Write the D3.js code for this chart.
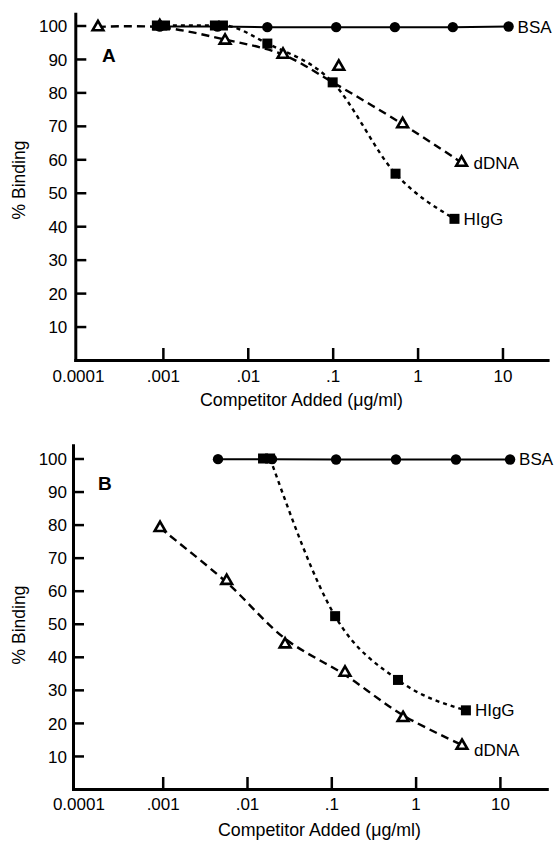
<!DOCTYPE html>
<html><head><meta charset="utf-8">
<script src="https://cdn.jsdelivr.net/npm/d3@7"></script>
<style>
body{margin:0;background:#fff}
svg text{font-family:"Liberation Sans",Arial,Helvetica,sans-serif;fill:#000}
</style>
</head><body><svg id="c" width="556" height="841"></svg>
<script>
// ---------- DATA ----------
const xTickValues = [0.0001, 0.001, 0.01, 0.1, 1, 10];
const xTickLabels = ["0.0001", ".001", ".01", ".1", "1", "10"];
const yTickValues = [10, 20, 30, 40, 50, 60, 70, 80, 90, 100];
const seriesNames = ["BSA", "HIgG", "dDNA"];
const xTitle = "Competitor Added (\u03bcg/ml)";
const yTitle = "% Binding";

// Panel A
const bsaA_conc  = [0.00092, 0.0044, 0.017, 0.11, 0.54, 2.6, 11.8];
const bsaA_val   = [99.7, 99.7, 99.5, 99.5, 99.5, 99.5, 99.7];
const higgA_conc = [0.00085, 0.00106, 0.0041, 0.0051, 0.017, 0.1, 0.55, 2.72];
const higgA_val  = [100, 100, 100, 100, 94.6, 83, 55.7, 42.2];
const higgA_curveConc = [0.00085, 0.0051, 0.017, 0.1, 0.55, 2.72];
const higgA_curveVal  = [100, 100, 94.6, 83, 55.7, 42.2];
const dnaA_conc  = [0.000172, 0.00092, 0.0054, 0.026, 0.118, 0.667, 3.3];
const dnaA_val   = [99.5, 99.8, 95.5, 91.3, 87.7, 70.5, 59];
const dnaA_curveConc = [0.000172, 0.00092, 0.0054, 0.026, 0.1, 0.667, 3.3];
const dnaA_curveVal  = [99.6, 99.5, 95.8, 91.3, 83, 70.5, 59];

// Panel B
const bsaB_conc  = [0.00453, 0.0198, 0.114, 0.585, 3.01, 13.2];
const bsaB_val   = [99.8, 99.8, 99.7, 99.7, 99.7, 99.7];
const higgB_conc = [0.0155, 0.0188, 0.111, 0.618, 3.95];
const higgB_val  = [100, 100, 52.3, 33, 23.8];
const higgB_curveConc = [0.0188, 0.111, 0.618, 3.95];
const higgB_curveVal  = [100, 52.3, 33, 23.8];
const dnaB_conc  = [0.00093, 0.00574, 0.0283, 0.1454, 0.71, 3.55];
const dnaB_val   = [79, 63, 43.8, 35.2, 21.5, 13.1];
const dnaB_curveConc = [0.00093, 0.00574, 0.0283, 0.1454, 0.71, 3.55];
const dnaB_curveVal  = [79, 62.5, 45.5, 34.5, 22.3, 13.3];

// ---------- DRAW ----------
const svg = d3.select("#c");
const zip = (a, b) => a.map((v, i) => [v, b[i]]);
const FS = "17px";

function panel(cfg) {
  const x = d3.scaleLog().domain(cfg.xDomain).range(cfg.xRange);
  const y = d3.scaleLinear().domain(cfg.yDomain).range(cfg.yRange);
  const g = svg.append("g");

  // axes
  const xa = g.append("g").attr("transform", `translate(0,${cfg.yRange[0]})`)
    .call(d3.axisBottom(x).tickValues(xTickValues)
      .tickFormat((d, i) => xTickLabels[i]).tickSizeInner(-12).tickSizeOuter(0));
  xa.select(".domain").attr("stroke-width", 3).attr("stroke-linecap", "square");
  xa.selectAll(".tick line").attr("stroke-width", 2.5)
    .attr("opacity", (d, i) => i === 0 ? 0 : 1);
  xa.selectAll(".tick text").attr("y", cfg.xLabelDy).attr("dy", 0)
    .style("font-size", FS);

  const ya = g.append("g").attr("transform", `translate(${cfg.xRange[0]},0)`)
    .call(d3.axisLeft(y).tickValues(yTickValues).tickSizeInner(-11)
      .tickSizeOuter(0).tickPadding(cfg.yPad));
  ya.select(".domain").attr("stroke-width", 3).attr("stroke-linecap", "square");
  ya.selectAll(".tick line").attr("stroke-width", 2.5);
  ya.selectAll(".tick text").style("font-size", FS).attr("dy", "0.36em");
  g.selectAll(".domain, .tick line").attr("stroke", "#000");

  // titles
  g.append("text").attr("x", cfg.xTitleX).attr("y", cfg.xTitleY)
    .style("font-size", "17.8px").text(xTitle);
  g.append("text").attr("transform", `translate(${cfg.yTitleX},${cfg.yTitleY}) rotate(-90)`)
    .attr("text-anchor", "middle").style("font-size", "17.5px").text(yTitle);
  g.append("text").attr("x", cfg.letterX).attr("y", cfg.letterY)
    .style("font-size", "19px").style("font-weight", "bold").text(cfg.letter);

  const line = d3.line().x(d => x(d[0])).y(d => y(d[1]));

  // curves
  g.append("path").datum(zip(cfg.bsa[0], cfg.bsa[1]))
    .attr("d", line.curve(d3.curveLinear)).attr("fill", "none")
    .attr("stroke", "#000").attr("stroke-width", 2);
  g.append("path").datum(zip(cfg.dnaCurve[0], cfg.dnaCurve[1]))
    .attr("d", line.curve(d3.curveCatmullRom.alpha(0.5))).attr("fill", "none")
    .attr("stroke", "#000").attr("stroke-width", 2.4).attr("stroke-dasharray", "8,5");
  g.append("path").datum(zip(cfg.higgCurve[0], cfg.higgCurve[1]))
    .attr("d", line.curve(d3.curveMonotoneX)).attr("fill", "none")
    .attr("stroke", "#000").attr("stroke-width", 2.4).attr("stroke-dasharray", "4,4");

  // markers
  g.append("g").selectAll("circle").data(zip(cfg.bsa[0], cfg.bsa[1])).join("circle")
    .attr("cx", d => x(d[0])).attr("cy", d => y(d[1])).attr("r", 5.2).attr("fill", "#000");
  g.append("g").selectAll("path").data(zip(cfg.dna[0], cfg.dna[1])).join("path")
    .attr("transform", d => `translate(${x(d[0])},${y(d[1])})`)
    .attr("d", d3.symbol(d3.symbolTriangle, 50)).attr("fill", "#fff")
    .attr("stroke", "#000").attr("stroke-width", 2.6);
  g.append("g").selectAll("rect").data(zip(cfg.higg[0], cfg.higg[1])).join("rect")
    .attr("x", d => x(d[0]) - 5).attr("y", d => y(d[1]) - 5)
    .attr("width", 10).attr("height", 10).attr("fill", "#000");

  // series labels at last points
  const lab = (arr, name, dx, dy) => {
    const n = arr[0].length - 1;
    g.append("text").attr("x", x(arr[0][n]) + dx).attr("y", y(arr[1][n]) + dy)
      .style("font-size", FS).text(name);
  };
  lab(cfg.bsa, seriesNames[0], 9, 6);
  lab(cfg.higg, seriesNames[1], 9, 6);
  lab(cfg.dna, seriesNames[2], 12, cfg.dnaLabDy);
}

panel({
  xDomain: [9.3e-5, 34], xRange: [75.3, 547.6],
  yDomain: [0, 103.5], yRange: [360, 360 - 103.5 * 3.345],
  xLabelDy: 22, yPad: 8,
  xTitleX: 200, xTitleY: 406, yTitleX: 25, yTitleY: 180,
  letter: "A", letterX: 102, letterY: 62,
  bsa: [bsaA_conc, bsaA_val],
  higg: [higgA_conc, higgA_val], higgCurve: [higgA_curveConc, higgA_curveVal],
  dna: [dnaA_conc, dnaA_val], dnaCurve: [dnaA_curveConc, dnaA_curveVal],
  dnaLabDy: 6
});

panel({
  xDomain: [8.63e-5, 36], xRange: [73.0, 546.8],
  yDomain: [0, 104], yRange: [789, 789 - 104 * 3.305],
  xLabelDy: 21, yPad: 6,
  xTitleX: 218, xTitleY: 836, yTitleX: 25, yTitleY: 625,
  letter: "B", letterX: 98, letterY: 490,
  bsa: [bsaB_conc, bsaB_val],
  higg: [higgB_conc, higgB_val], higgCurve: [higgB_curveConc, higgB_curveVal],
  dna: [dnaB_conc, dnaB_val], dnaCurve: [dnaB_curveConc, dnaB_curveVal],
  dnaLabDy: 10
});
</script>
</body></html>
